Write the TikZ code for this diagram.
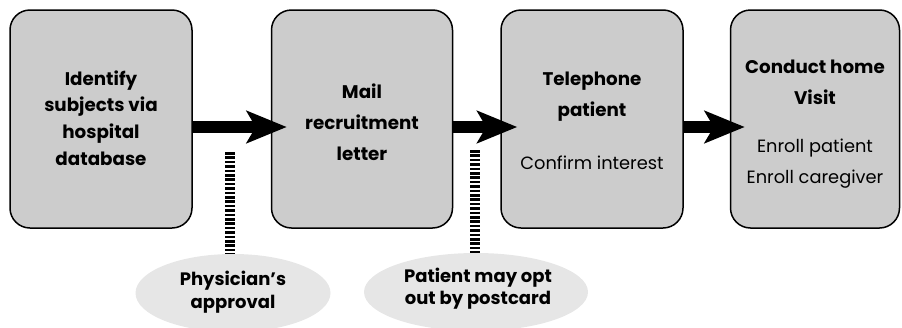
\documentclass[tikz,border=0pt]{standalone}
\usepackage{fontspec}
\setmainfont{Poppins}
\usetikzlibrary{arrows.meta,shapes.geometric}
\definecolor{boxgray}{HTML}{CCCCCC}
\definecolor{ovalgray}{HTML}{E6E6E6}
\tikzset{
  stepbox/.style={draw=black, line width=1.5pt, fill=boxgray, rounded corners=20pt,
    minimum height=218pt, align=center, inner sep=0pt},
  oval/.style={ellipse, fill=ovalgray, draw=none, align=center, inner sep=0pt},
  ovaltxt/.style={font=\fontsize{18}{23}\selectfont\bfseries, align=center},
  bigarrow/.style={line width=12pt, -{Stealth[length=40pt,width=32pt,inset=9pt]}},
  dashline/.style={line width=10pt, dash pattern=on 2.6pt off 1.8pt},
  btxt/.style={font=\fontsize{18.3}{31}\selectfont\bfseries, align=center},
  rtxt/.style={font=\fontsize{17.8}{31}\selectfont, align=center},
}
\begin{document}
\begin{tikzpicture}[x=1pt,y=-1pt]
\useasboundingbox (0,0) rectangle (902,327);
% ovals
\node[oval, minimum width=195pt, minimum height=78pt] (e1) at (233,293) {};
\node[ovaltxt] (o1) at (233,292) {Physician’s\\approval};
\node[oval, minimum width=224pt, minimum height=78pt] (e2) at (476,292) {};
\node[ovaltxt, font=\fontsize{18}{22}\selectfont\bfseries] (o2) at (478,289) {Patient may opt\\out by postcard};
% boxes
\node[stepbox, minimum width=182pt] (b1) at (101,119) {};
\node[btxt, font=\fontsize{18.3}{26.7}\selectfont\bfseries] (l1) at (101,118) {Identify\\subjects via\\hospital\\database};
\node[stepbox, minimum width=181pt] (b2) at (362,119) {};
\node[btxt] (l2) at (362,122) {Mail\\recruitment\\letter};
\node[stepbox, minimum width=182pt] (b3) at (592,119) {};
\node[btxt] (l3) at (592,97) {Telephone\\patient};
\node[rtxt] (s3) at (592,163) {Confirm interest};
\node[stepbox, minimum width=169pt] (b4) at (815,119) {};
\node[btxt] (l4) at (815,82) {Conduct home\\Visit};
\node[rtxt] (s4) at (815,164) {Enroll patient\\Enroll caregiver};
% arrows
\coordinate (t1) at ([xshift=16pt,yshift=-8pt]b2.west);
\coordinate (t2) at ([xshift=17pt,yshift=-8pt]b3.west);
\coordinate (t3) at ([xshift=15pt,yshift=-8pt]b4.west);
\draw[bigarrow] ([xshift=-1pt,yshift=-8pt]b1.east) -- (t1);
\draw[bigarrow] ([xshift=-1pt,yshift=-8pt]b2.east) -- (t2);
\draw[bigarrow] ([xshift=-1pt,yshift=-8pt]b3.east) -- (t3);
% dashed connectors
\coordinate (d1) at (230,152);
\coordinate (d2) at (475,150);
\draw[dashline] (d1) -- (d1 |- e1.north);
\draw[dashline] (d2) -- (d2 |- e2.north);
\end{tikzpicture}
\end{document}
